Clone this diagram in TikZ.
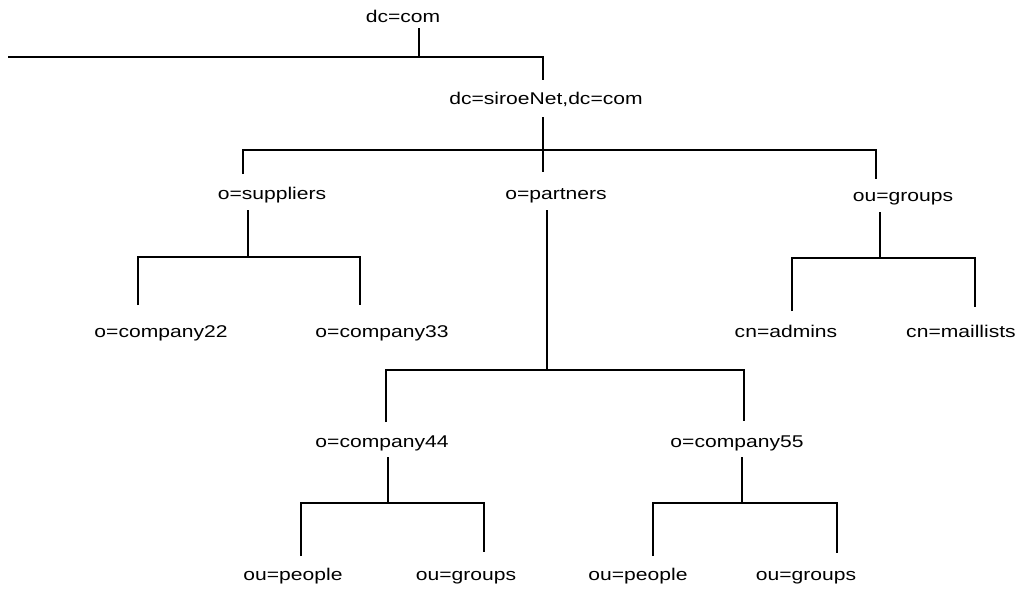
\documentclass[tikz,border=0pt]{standalone}
\usepackage{fontspec}
\setmainfont{Liberation Sans}[FakeStretch=1.24]
\begin{document}
\begin{tikzpicture}[x=1pt,y=-1pt,
  lbl/.style={anchor=base,inner sep=0pt,font=\fontsize{17}{20}\selectfont},
  conn/.style={line width=1.8pt,line cap=butt,line join=miter}]
\useasboundingbox (0,0) rectangle (1021,589);
% labels
\node[lbl] (com) at (403,23) {dc=com};
\node[lbl] (siroe) at (546,104) {dc=siroeNet,dc=com};
\node[lbl] (supp) at (272,199) {o=suppliers};
\node[lbl] (part) at (556,199) {o=partners};
\node[lbl] (grp) at (903,201) {ou=groups};
\node[lbl] (c22) at (161,337) {o=company22};
\node[lbl] (c33) at (382,337) {o=company33};
\node[lbl] (adm) at (786,337) {cn=admins};
\node[lbl] (mail) at (961,337) {cn=maillists};
\node[lbl] (c44) at (382,447) {o=company44};
\node[lbl] (c55) at (737,447) {o=company55};
\node[lbl] (pp1) at (293,580) {ou=people};
\node[lbl] (gr1) at (466,580) {ou=groups};
\node[lbl] (pp2) at (638,580) {ou=people};
\node[lbl] (gr2) at (806,580) {ou=groups};
% connector points
\coordinate (comB) at (419,28);
\coordinate (comJ) at (419,57);
\coordinate (leftEnd) at (8,57);
\coordinate (rightJ) at (543,57);
\coordinate (siroeT) at (543,80);
\coordinate (siroeB) at (543,117);
\coordinate (siroeJ) at (543,150);
\coordinate (suppJ) at (243,150);
\coordinate (suppT) at (243,174);
\coordinate (partT) at (543,172);
\coordinate (grpJ) at (876,150);
\coordinate (grpT) at (876,179);
\coordinate (suppB) at (248,210);
\coordinate (suppM) at (248,257);
\coordinate (c22J) at (138,257);
\coordinate (c22T) at (138,305);
\coordinate (c33J) at (360,257);
\coordinate (c33T) at (360,305);
\coordinate (grpB) at (880,212);
\coordinate (grpM) at (880,258);
\coordinate (admJ) at (792,258);
\coordinate (admT) at (792,311);
\coordinate (mailJ) at (975,258);
\coordinate (mailT) at (975,307);
\coordinate (partB) at (547,210);
\coordinate (partM) at (547,370);
\coordinate (c44J) at (386,370);
\coordinate (c44T) at (386,422);
\coordinate (c55J) at (744,370);
\coordinate (c55T) at (744,421);
\coordinate (c44B) at (388,457);
\coordinate (c44M) at (388,503);
\coordinate (pp1J) at (301,503);
\coordinate (pp1T) at (301,556);
\coordinate (gr1J) at (484,503);
\coordinate (gr1T) at (484,552);
\coordinate (c55B) at (742,457);
\coordinate (c55M) at (742,503);
\coordinate (pp2J) at (653,503);
\coordinate (pp2T) at (653,556);
\coordinate (gr2J) at (837,503);
\coordinate (gr2T) at (837,553);
% connectors
\draw[conn] (comB) -- (comJ);
\draw[conn] (leftEnd) -- (rightJ) -- (siroeT);
\draw[conn] (siroeB) -- (siroeJ);
\draw[conn] (suppT) -- (suppJ) -- (grpJ) -- (grpT);
\draw[conn] (siroeJ) -- (partT);
\draw[conn] (suppB) -- (suppM);
\draw[conn] (c22T) -- (c22J) -- (c33J) -- (c33T);
\draw[conn] (grpB) -- (grpM);
\draw[conn] (admT) -- (admJ) -- (mailJ) -- (mailT);
\draw[conn] (partB) -- (partM);
\draw[conn] (c44T) -- (c44J) -- (c55J) -- (c55T);
\draw[conn] (c44B) -- (c44M);
\draw[conn] (pp1T) -- (pp1J) -- (gr1J) -- (gr1T);
\draw[conn] (c55B) -- (c55M);
\draw[conn] (pp2T) -- (pp2J) -- (gr2J) -- (gr2T);
\end{tikzpicture}
\end{document}
